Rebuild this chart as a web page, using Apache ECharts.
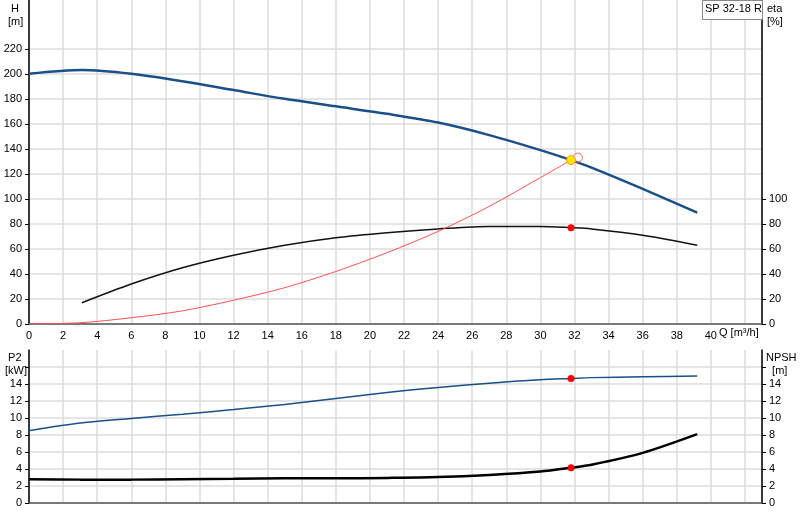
<!DOCTYPE html>
<html><head><meta charset="utf-8">
<script src="https://cdn.jsdelivr.net/npm/echarts@6/dist/echarts.min.js"></script>
<style>html,body{margin:0;padding:0;background:#fff}#c{width:800px;height:520px}</style>
</head><body><div id="c"></div>
<script>
const qH = [0,3.1,6,9,12,15,18,21,24,27,30,31.8,33,36,39.2];
const H  = [200,203,200,194,187,180,174,168,161,151,139,131,125,108,89];
const qEta = [3.1,6,9,12,15,18,21,24,27,30,31.8,33,36,39.2];
const eta  = [17,32,45,55,63,69,73,76,78,78,77,76,71,63];
const qSys = [0,3,6,9,12,15,18,21,24,27,30,31.8];
const sys  = [0,1,5,10.5,19,29,42,57,74,94,117,131];
const qP2 = [0,3,6,9,12,15,18,21,24,27,30,31.8,33,36,39.2];
const P2  = [8.5,9.4,9.95,10.45,11,11.6,12.3,13,13.6,14.1,14.5,14.65,14.75,14.85,14.95];
const qN = [0,3,6,9,12,15,18,21,24,27,30,31.8,33,36,39.2];
const NPSH = [2.8,2.75,2.75,2.8,2.85,2.9,2.9,2.95,3.05,3.3,3.7,4.15,4.5,5.9,8.1];
const dutyQ = 31.8;
const xTicks = [0,2,4,6,8,10,12,14,16,18,20,22,24,26,28,30,32,34,36,38,40];
const hTicks = [0,20,40,60,80,100,120,140,160,180,200,220];
const etaTicks = [0,20,40,60,80,100];
const lowTicks = [0,2,4,6,8,10,12,14];

const z = (xs, ys) => xs.map((x,i)=>[x,ys[i]]);
const font = {fontFamily:'Liberation Sans', fontSize:11, color:'#000'};
const tfont = {fontFamily:'Liberation Sans', fontSize:11, fill:'#000'};
const grid = {show:true, lineStyle:{color:'#dcdcdc', width:1.5}};
const xBase = (gi, showLabels) => ({type:'value', gridIndex:gi, min:0, max:43, interval:2,
  axisLine:{show:true, onZero:false, lineStyle:{color:'#555', width:1.5}},
  axisTick:{show:false},
  axisLabel:{show:showLabels, ...font, margin:6, customValues: xTicks},
  splitLine:grid});
const yAx = (gi, pos, max, iv, labels, ticks, showSplit) => ({type:'value', gridIndex:gi, position:pos, min:0, max:max, interval:iv,
  axisLine:{show:true, lineStyle:{color:'#000', width:1.5}},
  axisTick:{show:true, length:4, lineStyle:{color:'#000'}, customValues: ticks},
  axisLabel:{...font, margin:7, customValues: labels},
  splitLine: showSplit ? grid : {show:false}});

const chart = echarts.init(document.getElementById('c'));
chart.setOption({
  animation:false,
  grid:[{left:29,right:38,top:0,height:324},{left:29,right:38,top:350,height:153}],
  xAxis:[xBase(0,true), xBase(1,false)],
  yAxis:[yAx(0,'left',259,20,hTicks,hTicks,true), yAx(0,'right',259,20,etaTicks,etaTicks,false),
    yAx(1,'left',18,2,lowTicks,[0,2,4,6,8,10,12,14,16],true),
    yAx(1,'right',18,2,lowTicks,[0,2,4,6,8,10,12,14,16],false)],
  series:[
    {type:'line', xAxisIndex:0, yAxisIndex:0, data:z(qH,H), smooth:0.3, symbol:'none', lineStyle:{color:'#1a4f8a', width:2.5}},
    {type:'line', xAxisIndex:0, yAxisIndex:1, data:z(qEta,eta), smooth:0.3, symbol:'none', lineStyle:{color:'#111', width:1.5},
      markPoint:{symbol:'circle', symbolSize:7, itemStyle:{color:'#f00'}, label:{show:false}, data:[{coord:[dutyQ,77]}]}},
    {type:'line', xAxisIndex:0, yAxisIndex:0, data:z(qSys,sys), smooth:0.3, symbol:'none', lineStyle:{color:'#ff5050', width:1}, z:3,
      markPoint:{label:{show:false}, data:[
        {coord:[32.2,133], symbol:'circle', symbolSize:9, itemStyle:{color:'rgba(0,0,0,0)', borderColor:'#ff6060', borderWidth:1}},
        {coord:[dutyQ,131], symbol:'circle', symbolSize:9, itemStyle:{color:'#ffe600', borderColor:'#ff9900', borderWidth:1}}]}},
    {type:'line', xAxisIndex:1, yAxisIndex:2, data:z(qP2,P2), smooth:0.3, symbol:'none', lineStyle:{color:'#1a4f8a', width:1.5},
      markPoint:{symbol:'circle', symbolSize:7, itemStyle:{color:'#f00'}, label:{show:false}, data:[{coord:[dutyQ,14.65]}]}},
    {type:'line', xAxisIndex:1, yAxisIndex:3, data:z(qN,NPSH), smooth:0.3, symbol:'none', lineStyle:{color:'#000', width:2.5},
      markPoint:{symbol:'circle', symbolSize:7, itemStyle:{color:'#f00'}, label:{show:false}, data:[{coord:[dutyQ,4.15]}]}}
  ],
  graphic:[
    {type:'text', left:8, top:2, style:{text:' H\n[m]', ...tfont, lineHeight:13}},
    {type:'text', left:767, top:2, style:{text:'eta\n[%]', ...tfont, lineHeight:13}},
    {type:'text', left:719, top:327, style:{text:'Q [m³/h]', ...tfont}},
    {type:'text', left:5, top:351, style:{text:' P2\n[kW]', ...tfont, lineHeight:13}},
    {type:'text', left:766, top:351, style:{text:'NPSH\n  [m]', ...tfont, lineHeight:13}},
    {type:'rect', left:702, top:0, shape:{width:60, height:19}, style:{fill:'#fff', stroke:'#888', lineWidth:1}, z:10},
    {type:'text', left:705, top:3, style:{text:'SP 32-18 R', ...tfont}, z:11}
  ]
});
</script></body></html>
